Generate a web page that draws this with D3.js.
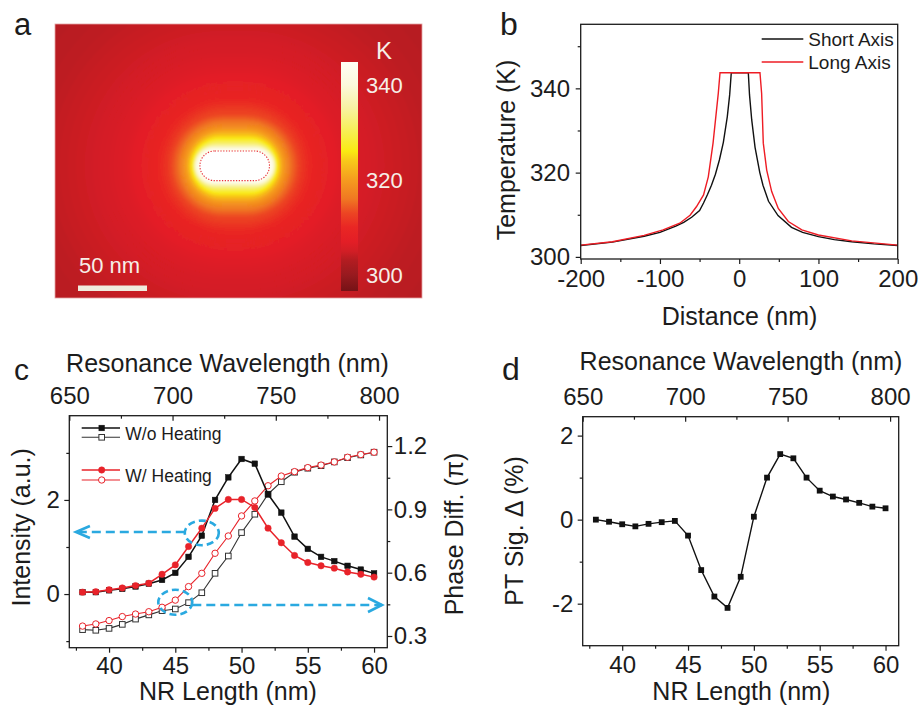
<!DOCTYPE html>
<html><head><meta charset="utf-8">
<script src="https://cdn.jsdelivr.net/npm/d3@7"></script>
<style>
body{margin:0;background:#fff}
svg text{font-family:"Liberation Sans",Arial,Helvetica,sans-serif;}
</style></head><body>
<svg id="fig" width="919" height="705"></svg>
<script>
// ---------------- DATA ----------------
// panel a : colour bar
const cbarTemps  = [296.6, 300, 303, 305, 307, 310, 313, 316, 320, 324, 326, 330, 335, 340, 344.8];
const cbarColors = ["#761216","#981a1f","#b21c21","#d21e25","#e31e26","#e92624","#ec4523","#f07822","#f59c1f","#f8c81a","#faea12","#f7ee50","#f8f2a0","#fcf9dc","#fffff5"];
const cbarTicks  = [300, 320, 340];
const scaleBarNm = 50;

// panel b : temperature profiles
const shortDist = [-200,-160,-120,-100,-80,-70,-60,-50,-45,-40,-35,-30,-25,-20,-15,-12,-10,11.5,13,15.8,20,26,30,37,49,66,80,100,120,142,170,200];
const shortTemp = [302.7,303.5,304.9,305.8,307.3,308.2,309.4,311.0,312.8,314.8,317.0,319.6,323.0,327.2,333.3,338.5,343.7,343.7,338.5,332.5,326.0,320.0,317.0,313.2,309.8,307.0,305.8,304.8,304.1,303.6,303.1,302.7];
const longDist  = [-200,-160,-120,-96,-75,-62,-54,-45,-39,-33,-26.4,-24.2,26.2,28.3,30.4,34.7,41,49.3,62,79,100,142,200];
const longTemp  = [302.8,303.6,305.1,306.4,308.0,309.9,311.9,314.7,319.0,327.0,338.8,343.7,343.7,338.8,327.0,320.6,315.5,311.5,308.4,306.4,305.2,303.8,302.8];
const bXTicks = [-200,-100,0,100,200], bXMinor = [-150,-50,50,150];
const bYTicks = [300,320,340], bYMinor = [310,330,350];

// panel c
const nrLength = [38,39,40,41,42,43,44,45,46,47,48,49,50,51,52,53,54,55,56,57,58,59,60];
const intensityNoHeat = [0.04,0.04,0.08,0.11,0.16,0.22,0.30,0.45,0.79,1.24,2.00,2.48,2.87,2.77,2.12,1.73,1.22,0.96,0.79,0.70,0.60,0.52,0.44];
const intensityHeat   = [0.04,0.05,0.09,0.13,0.18,0.23,0.42,0.62,1.01,1.40,1.82,2.01,2.01,1.84,1.40,1.09,0.82,0.67,0.60,0.55,0.47,0.42,0.36];
const phaseNoHeat = [0.330,0.327,0.336,0.355,0.380,0.400,0.420,0.428,0.458,0.505,0.597,0.679,0.790,0.877,0.972,1.031,1.076,1.095,1.107,1.125,1.145,1.158,1.171];
const phaseHeat   = [0.347,0.357,0.373,0.392,0.404,0.415,0.436,0.470,0.534,0.597,0.692,0.774,0.869,0.940,1.012,1.058,1.079,1.098,1.110,1.125,1.147,1.160,1.171];
const nrTicks = [40,45,50,55,60], nrMinor = [37.5,42.5,47.5,52.5,57.5];
const wlTicks = [650,700,750,800], wlMinor = [675,725,775];
const cLeftTicks = [0,2], cLeftMinor = [-1,1,3];
const cRightTicks = [0.3,0.6,0.9,1.2], cRightMinor = [0.45,0.75,1.05];
const markIntensity = [47, 1.30], markPhase = [45, 0.46];
const arrowIntensityY = 1.32, arrowPhaseY = 0.447;

// panel d
const ptSignal = [0.00,-0.05,-0.11,-0.16,-0.10,-0.06,-0.03,-0.38,-1.20,-1.83,-2.10,-1.36,0.07,1.00,1.56,1.46,1.00,0.69,0.55,0.48,0.40,0.31,0.27];
const dYTicks = [-2,0,2], dYMinor = [-1,1];

// ---------------- HELPERS ----------------
const svg = d3.select('#fig');
const INK = '#1c1c1c';
const defs = svg.append('defs');

function txt(g, x, y, s, size, o = {}) {
  const t = g.append('text').attr('x', x).attr('y', y).text(s)
    .attr('font-size', size).attr('fill', o.fill || INK)
    .attr('text-anchor', o.anchor || 'start');
  if (o.rotate) t.attr('x', 0).attr('y', 0).attr('transform', `translate(${x},${y}) rotate(${o.rotate})`);
  return t;
}
function styleAxis(sel, size) {
  sel.select('.domain').remove();
  sel.attr('font-family', null).attr('font-size', null);
  sel.selectAll('line').attr('stroke', INK).attr('stroke-width', 1.2);
  sel.selectAll('text').attr('font-size', size).attr('fill', INK);
}
function axis(g, gen, scale, at, major, minor, size, pad, inward, fmt) {
  const sz = inward ? -5 : 5, szm = inward ? -3 : 3;
  const a = gen(scale).tickValues(major).tickSize(sz).tickPadding(pad).tickSizeOuter(0).tickFormat(fmt || (d => String(d)));
  g.append('g').attr('transform', at).call(a).call(s => styleAxis(s, size));
  if (minor) {
    const m = gen(scale).tickValues(minor).tickSize(szm).tickSizeOuter(0).tickFormat('');
    g.append('g').attr('transform', at).call(m).call(s => styleAxis(s, size));
  }
}
function frame(g, x0, y0, x1, y1) {
  g.append('rect').attr('x', x0).attr('y', y0).attr('width', x1 - x0).attr('height', y1 - y0)
    .attr('fill', 'none').attr('stroke', INK).attr('stroke-width', 1.3);
}

// ---------------- PANEL A ----------------
{
  const g = svg.append('g');
  const box = {x: 55, y: 24, w: 367, h: 274};
  const c = [234.7, 165.8];
  const px = d3.scaleLinear().domain([0, scaleBarNm]).range([0, 69]);
  const heat = d3.scaleLinear().domain(cbarTemps).range(cbarColors).clamp(true);

  defs.append('clipPath').attr('id', 'aclip').append('rect')
    .attr('x', box.x).attr('y', box.y).attr('width', box.w).attr('height', box.h);
  defs.append('filter').attr('id', 'ablur').attr('x', '-10%').attr('y', '-10%').attr('width', '120%').attr('height', '120%')
    .append('feGaussianBlur').attr('stdDeviation', 1.0);

  const rs = shortDist.map((d, i) => [d, shortTemp[i]]).filter(p => p[0] > 0);
  const rl = longDist.map((d, i) => [d, longTemp[i]]).filter(p => p[0] > 0);
  const dS = d3.scaleLinear().domain(rs.map(p => p[1])).range(rs.map(p => p[0])).clamp(true);
  const dL = d3.scaleLinear().domain(rl.map(p => p[1])).range(rl.map(p => p[0])).clamp(true);

  const field = g.append('g').attr('clip-path', 'url(#aclip)');
  field.append('rect').attr('x', box.x).attr('y', box.y).attr('width', box.w).attr('height', box.h)
    .attr('fill', heat(302.7));
  const levels = d3.range(302.7, 343.7, 0.2);
  const lg = field.append('g').attr('filter', 'url(#ablur)');
  lg.selectAll('rect').data(levels).join('rect')
    .attr('x', T => c[0] - px(dL(T))).attr('y', T => c[1] - px(dS(T)))
    .attr('width', T => 2 * px(dL(T))).attr('height', T => 2 * px(dS(T)))
    .attr('rx', T => px(dS(T))).attr('ry', T => px(dS(T)))
    .attr('fill', T => heat(T));
  // nanorod
  const hl = (longDist[12] - longDist[11]) / 2, hs = (shortDist[17] - shortDist[16]) / 2;
  field.append('rect').attr('x', c[0] - px(hl)).attr('y', c[1] - px(hs))
    .attr('width', 2 * px(hl)).attr('height', 2 * px(hs)).attr('rx', px(hs)).attr('ry', px(hs))
    .attr('fill', '#ffffff').attr('stroke', '#e8303a').attr('stroke-width', 1.1).attr('stroke-dasharray', '1.3,1.5');
  g.append('rect').attr('x', box.x).attr('y', box.y).attr('width', box.w).attr('height', box.h)
    .attr('fill', 'none').attr('stroke', '#e3a3a3').attr('stroke-width', 0.8);

  // colour bar
  const cb = d3.scaleLinear().domain([cbarTemps[0], cbarTemps[cbarTemps.length - 1]]).range([291, 62]);
  const grad = defs.append('linearGradient').attr('id', 'cbgrad').attr('x1', 0).attr('y1', 1).attr('x2', 0).attr('y2', 0);
  cbarTemps.forEach((t, i) => grad.append('stop')
    .attr('offset', (t - cbarTemps[0]) / (cbarTemps[cbarTemps.length - 1] - cbarTemps[0]))
    .attr('stop-color', cbarColors[i]));
  g.append('rect').attr('x', 341).attr('y', cb.range()[1]).attr('width', 17)
    .attr('height', cb.range()[0] - cb.range()[1]).attr('fill', 'url(#cbgrad)');
  cbarTicks.forEach(t => txt(g, 366, cb(t) + 8, String(t), 22, {fill: '#f6efe8'}));
  txt(g, 384, 59, 'K', 24, {fill: '#f6efe8', anchor: 'middle'});

  // scale bar
  g.append('rect').attr('x', 78).attr('y', 285.5).attr('width', px(scaleBarNm)).attr('height', 5.5).attr('fill', '#efebdd');
  txt(g, 79, 272.5, scaleBarNm + ' nm', 22, {fill: '#f6efe8'});
  txt(g, 14, 35, 'a', 31);
}

// ---------------- PANEL B ----------------
{
  const g = svg.append('g');
  const x = d3.scaleLinear().domain([-200, 200]).range([580.7, 897.7]);
  const y = d3.scaleLinear().domain([299.5, 355.2]).range([259, 24.3]);
  const line = d3.line().x(d => x(d[0])).y(d => y(d[1]));
  g.append('path').datum(shortDist.map((d, i) => [d, shortTemp[i]]))
    .attr('d', line).attr('fill', 'none').attr('stroke', '#111').attr('stroke-width', 1.4);
  g.append('path').datum(longDist.map((d, i) => [d, longTemp[i]]))
    .attr('d', line).attr('fill', 'none').attr('stroke', '#ee1c24').attr('stroke-width', 1.4);
  axis(g, d3.axisBottom, x, 'translate(0,259)', bXTicks, bXMinor, 24, 5.7, false);
  axis(g, d3.axisLeft, y, 'translate(580.7,0)', bYTicks, bYMinor, 24, 5.7, false);
  frame(g, 580.7, 24.3, 897.7, 259);
  txt(g, 739.5, 325, 'Distance (nm)', 25, {anchor: 'middle'});
  txt(g, 515, 150, 'Temperature (K)', 25, {anchor: 'middle', rotate: -90});
  // legend
  g.append('line').attr('x1', 761.7).attr('x2', 803.3).attr('y1', 39).attr('y2', 39).attr('stroke', '#111').attr('stroke-width', 1.4);
  g.append('line').attr('x1', 761.7).attr('x2', 803.3).attr('y1', 62).attr('y2', 62).attr('stroke', '#ee1c24').attr('stroke-width', 1.4);
  txt(g, 808.3, 45.5, 'Short Axis', 19);
  txt(g, 808.3, 68.5, 'Long Axis', 19);
  txt(g, 500, 35, 'b', 32);
}

// ---------------- PANEL C ----------------
{
  const g = svg.append('g');
  const X0 = 69.3, X1 = 387.3, Y0 = 415.7, Y1 = 647.7;
  const x = d3.scaleLinear().domain([37, 61]).range([X0, X1]);
  const xt = d3.scaleLinear().domain([650, 804]).range([X0, X1]);
  const yl = d3.scaleLinear().domain([-1.14, 3.79]).range([Y1, Y0]);
  const yr = d3.scaleLinear().domain([0.2445, 1.344]).range([Y1, Y0]);
  const BLK = '#111', GRY = '#333', RED = '#e8232a';

  function series(vals, ys, color, shape, filled, lw) {
    const pts = nrLength.map((n, i) => [x(n), ys(vals[i])]);
    g.append('path').datum(pts).attr('d', d3.line()).attr('fill', 'none').attr('stroke', color).attr('stroke-width', lw);
    const s = g.append('g');
    if (shape === 'sq') {
      s.selectAll('rect').data(pts).join('rect').attr('x', p => p[0] - 2.8).attr('y', p => p[1] - 2.8)
        .attr('width', 5.6).attr('height', 5.6).attr('fill', filled ? color : '#fff').attr('stroke', color).attr('stroke-width', filled ? 0.5 : 1);
    } else {
      s.selectAll('circle').data(pts).join('circle').attr('cx', p => p[0]).attr('cy', p => p[1]).attr('r', 3.2)
        .attr('fill', filled ? color : '#fff').attr('stroke', color).attr('stroke-width', filled ? 0.5 : 1);
    }
  }
  series(phaseNoHeat, yr, GRY, 'sq', false, 1.1);
  series(phaseHeat, yr, RED, 'ci', false, 1.1);
  series(intensityNoHeat, yl, BLK, 'sq', true, 1.5);
  series(intensityHeat, yl, RED, 'ci', true, 1.5);

  axis(g, d3.axisBottom, x, `translate(0,${Y1})`, nrTicks, nrMinor, 24, 4.6, false);
  axis(g, d3.axisTop, xt, `translate(0,${Y0})`, wlTicks, wlMinor, 24, 12, true);
  axis(g, d3.axisLeft, yl, `translate(${X0},0)`, cLeftTicks, cLeftMinor, 24, 4.5, false);
  axis(g, d3.axisRight, yr, `translate(${X1},0)`, cRightTicks, cRightMinor, 24, 1.5, false, d3.format('.1f'));
  frame(g, X0, Y0, X1, Y1);

  // annotations
  const BLU = '#2aa9e0';
  const an = g.append('g').attr('fill', 'none').attr('stroke', BLU).attr('stroke-width', 2.6);
  an.append('ellipse').attr('cx', x(markIntensity[0])).attr('cy', yl(markIntensity[1])).attr('rx', 17).attr('ry', 12.3).attr('stroke-dasharray', '7,4');
  an.append('ellipse').attr('cx', x(markPhase[0])).attr('cy', yr(markPhase[1])).attr('rx', 17).attr('ry', 12.5).attr('stroke-dasharray', '7,4');
  const ay1 = yl(arrowIntensityY), ay2 = yr(arrowPhaseY);
  an.append('line').attr('x1', x(markIntensity[0]) - 17).attr('x2', x(37.5)).attr('y1', ay1).attr('y2', ay1).attr('stroke-dasharray', '9,5');
  an.append('path').attr('d', `M${x(37.5) + 14},${ay1 - 6}L${x(37.5)},${ay1}L${x(37.5) + 14},${ay1 + 6}`);
  an.append('line').attr('x1', x(markPhase[0]) + 17).attr('x2', x(60.6)).attr('y1', ay2).attr('y2', ay2).attr('stroke-dasharray', '9,5');
  an.append('path').attr('d', `M${x(60.6) - 14},${ay2 - 7}L${x(60.6)},${ay2}L${x(60.6) - 14},${ay2 + 7}`);

  // legend
  const lg = g.append('g');
  function legRow(yy, color, shape, filled, lw) {
    lg.append('line').attr('x1', 81.7).attr('x2', 120).attr('y1', yy).attr('y2', yy).attr('stroke', color).attr('stroke-width', lw);
    if (shape === 'sq') lg.append('rect').attr('x', 101.7 - 2.8).attr('y', yy - 2.8).attr('width', 5.6).attr('height', 5.6)
      .attr('fill', filled ? color : '#fff').attr('stroke', color).attr('stroke-width', filled ? 0.5 : 1);
    else lg.append('circle').attr('cx', 101.7).attr('cy', yy).attr('r', 3.2)
      .attr('fill', filled ? color : '#fff').attr('stroke', color).attr('stroke-width', filled ? 0.5 : 1);
  }
  legRow(428, BLK, 'sq', true, 1.5);
  legRow(437.3, GRY, 'sq', false, 1.1);
  legRow(470, RED, 'ci', true, 1.5);
  legRow(480, RED, 'ci', false, 1.1);
  txt(g, 125.3, 439.5, 'W/o Heating', 17.5);
  txt(g, 125.3, 481.5, 'W/ Heating', 17.5);

  txt(g, 228, 700, 'NR Length (nm)', 25, {anchor: 'middle'});
  txt(g, 227.5, 371.7, 'Resonance Wavelength (nm)', 25, {anchor: 'middle'});
  txt(g, 29.6, 527.3, 'Intensity (a.u.)', 25, {anchor: 'middle', rotate: -90});
  txt(g, 463, 534, 'Phase Diff. (\u03c0)', 25, {anchor: 'middle', rotate: -90});
  txt(g, 14, 380, 'c', 30);
}

// ---------------- PANEL D ----------------
{
  const g = svg.append('g');
  const X0 = 582.7, X1 = 898.7, Y0 = 416.7, Y1 = 645.7;
  const x = d3.scaleLinear().domain([37, 61]).range([X0, X1]);
  const xt = d3.scaleLinear().domain([650, 804.2]).range([X0, X1]);
  const y = d3.scaleLinear().domain([-3, 2.45]).range([Y1, Y0]);
  const pts = nrLength.map((n, i) => [x(n), y(ptSignal[i])]);
  g.append('path').datum(pts).attr('d', d3.line()).attr('fill', 'none').attr('stroke', '#111').attr('stroke-width', 1.4);
  g.selectAll('rect.m').data(pts).join('rect').attr('class', 'm')
    .attr('x', p => p[0] - 2.9).attr('y', p => p[1] - 2.9).attr('width', 5.8).attr('height', 5.8).attr('fill', '#111');
  axis(g, d3.axisBottom, x, `translate(0,${Y1})`, nrTicks, nrMinor, 24, 5, false);
  axis(g, d3.axisTop, xt, `translate(0,${Y0})`, wlTicks, wlMinor, 24, 11.7, true);
  axis(g, d3.axisLeft, y, `translate(${X0},0)`, dYTicks, dYMinor, 24, 4.4, false);
  frame(g, X0, Y0, X1, Y1);
  txt(g, 741.3, 700, 'NR Length (nm)', 25, {anchor: 'middle'});
  txt(g, 741, 370, 'Resonance Wavelength (nm)', 25, {anchor: 'middle'});
  txt(g, 523, 531, 'PT Sig. \u0394 (%)', 25, {anchor: 'middle', rotate: -90});
  txt(g, 502, 380, 'd', 32);
}
</script>
</body></html>
